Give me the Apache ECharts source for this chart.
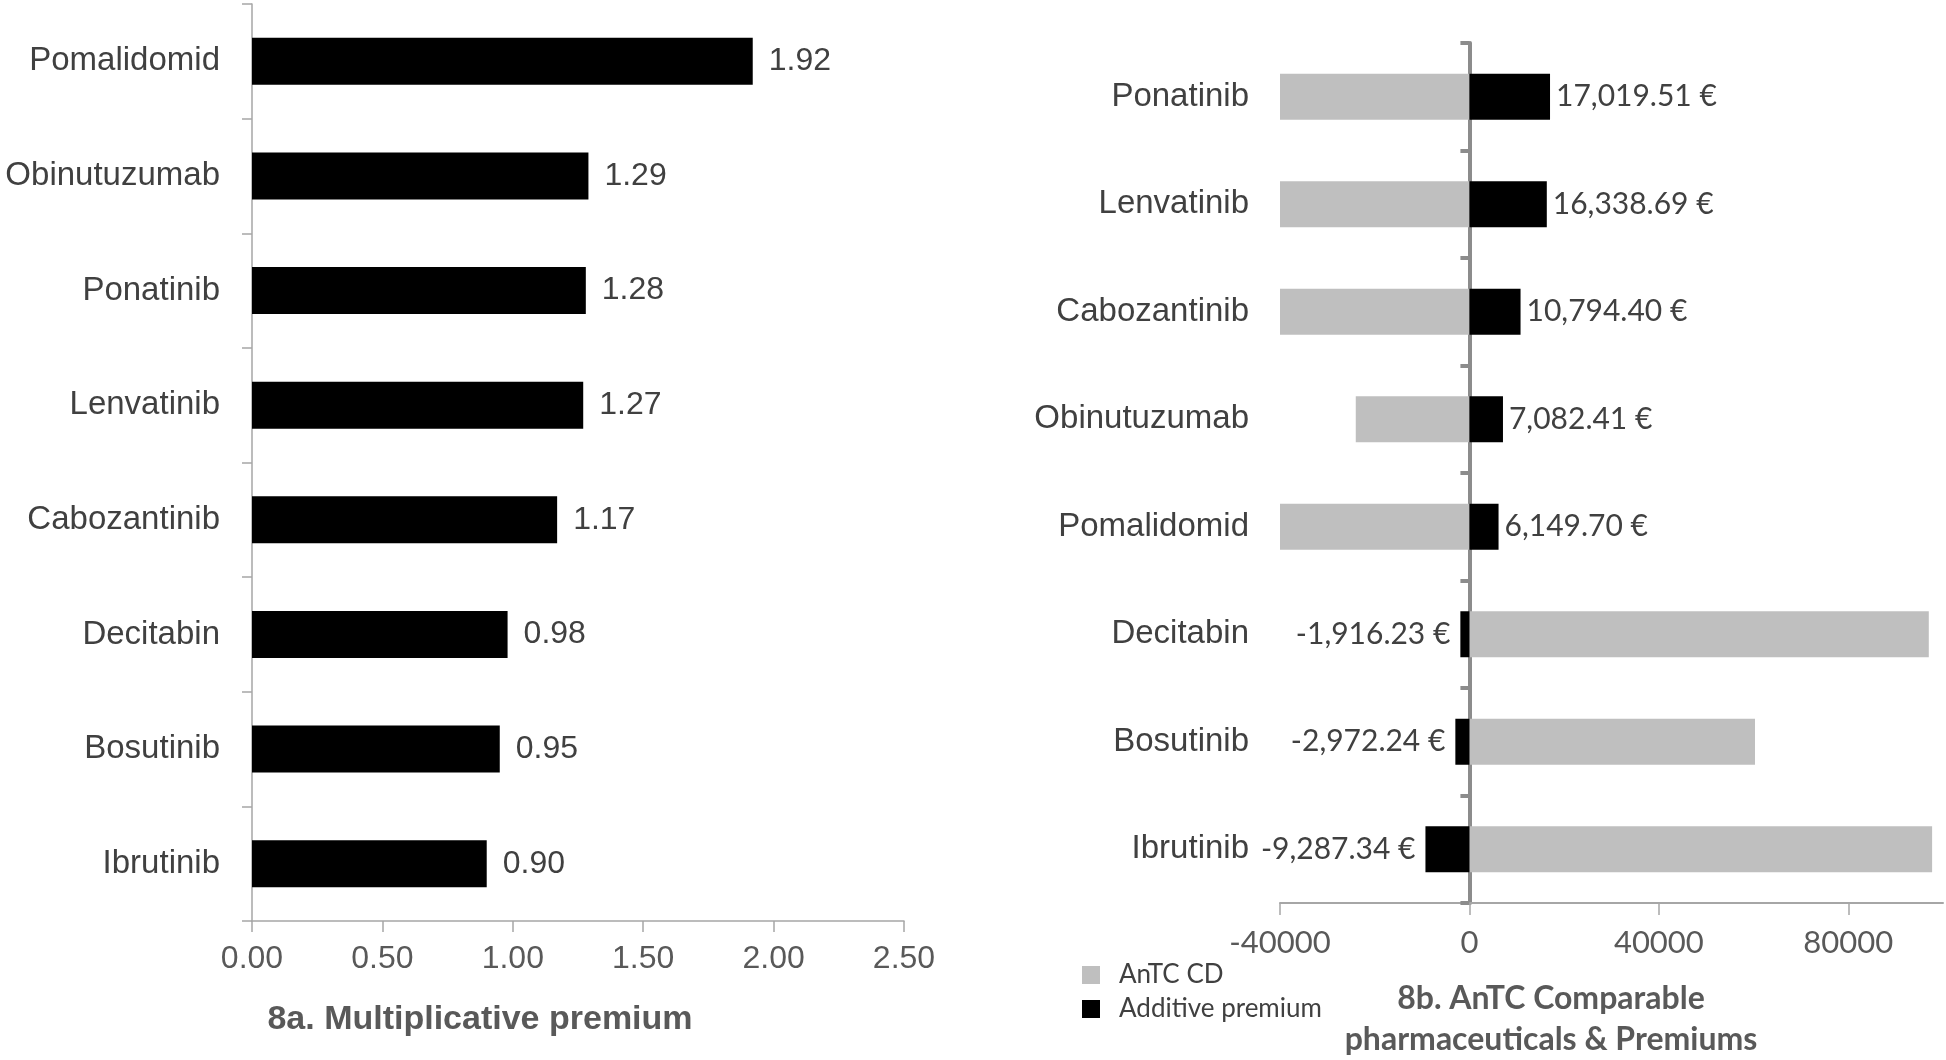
<!DOCTYPE html>
<html>
<head>
<meta charset="utf-8">
<script src="https://cdn.jsdelivr.net/npm/echarts@6/dist/echarts.min.js"></script>
<style>
  html, body { margin: 0; padding: 0; background: #fff; }
  #myChart { width: 1946px; height: 1060px; }
</style>
</head>
<body>
<div id="myChart"></div>
<script>
// 8a - multiplicative premium
var drugsA = ['Pomalidomid', 'Obinutuzumab', 'Ponatinib', 'Lenvatinib', 'Cabozantinib', 'Decitabin', 'Bosutinib', 'Ibrutinib'];
var multPremium = [1.92, 1.29, 1.28, 1.27, 1.17, 0.98, 0.95, 0.90];
var ticksA = [0, 0.5, 1, 1.5, 2, 2.5];

// 8b - AnTC comparable pharmaceuticals & premiums
var drugsB = ['Ponatinib', 'Lenvatinib', 'Cabozantinib', 'Obinutuzumab', 'Pomalidomid', 'Decitabin', 'Bosutinib', 'Ibrutinib'];
var antcCD = [-40000, -40000, -40000, -24000, -40000, 97000, 60300, 97700];
var addPremium = [17019.51, 16338.69, 10794.40, 7082.41, 6149.70, -1916.23, -2972.24, -9287.34];
var ticksB = [-40000, 0, 40000, 80000];

var arial = '"Liberation Sans", Arial, sans-serif';
var calib = 'Lato, "Open Sans", sans-serif';
var txt = '#404040';
var axisGray = '#a6a6a6';

function euro(v) {
  return v.toLocaleString('en-US', {minimumFractionDigits: 2, maximumFractionDigits: 2}) + ' €';
}

var myChart = echarts.init(document.getElementById('myChart'));

var option = {
  animation: false,
  title: [
    {
      text: '8a. Multiplicative premium',
      left: 475, top: 998, textAlign: 'center',
      textStyle: {fontFamily: arial, fontSize: 34, fontWeight: 'bold', color: '#595959'}
    },
    {
      text: '8b. AnTC Comparable\npharmaceuticals & Premiums',
      left: 1546, top: 973, textAlign: 'center',
      textStyle: {fontFamily: calib, fontSize: 32, fontWeight: 'bold', color: '#595959', lineHeight: 41}
    }
  ],
  legend: {
    data: ['AnTC CD', 'Additive premium'],
    orient: 'vertical',
    left: 1077, top: 957,
    icon: 'rect',
    itemWidth: 18, itemHeight: 18, itemGap: 8,
    textStyle: {fontFamily: calib, fontSize: 26, color: txt, padding: [0, 0, 0, 14]}
  },
  grid: [
    {left: 252, top: 4, width: 652, height: 917},
    {left: 1280, top: 43, width: 663, height: 860}
  ],
  xAxis: [
    {
      gridIndex: 0, type: 'value', min: 0, max: 2.5, interval: 0.5,
      splitLine: {show: false},
      axisLine: {show: true, lineStyle: {color: axisGray, width: 1.5}},
      axisTick: {show: true, length: 11, lineStyle: {color: axisGray, width: 1.5}},
      axisLabel: {
        margin: 22, fontFamily: arial, fontSize: 32, color: '#595959',
        formatter: function (v) { return v.toFixed(2); }
      }
    },
    {
      gridIndex: 1, type: 'value', min: -40000, max: 100000, interval: 40000,
      splitLine: {show: false},
      axisLine: {show: true, onZero: false, lineStyle: {color: axisGray, width: 2}},
      axisTick: {show: true, length: 12, customValues: ticksB, lineStyle: {color: axisGray, width: 1.5}},
      axisLabel: {
        margin: 24, fontFamily: calib, fontSize: 31, color: '#595959', customValues: ticksB,
        formatter: function (v) { return String(v); }
      }
    }
  ],
  yAxis: [
    {
      gridIndex: 0, type: 'category', inverse: true, data: drugsA,
      axisLine: {show: true, lineStyle: {color: axisGray, width: 1.5}},
      axisTick: {show: true, length: 10, lineStyle: {color: axisGray, width: 1.5}},
      axisLabel: {margin: 32, fontFamily: arial, fontSize: 33, color: txt}
    },
    {
      // labels of 8b, sitting at the left edge of the grid
      gridIndex: 1, type: 'category', inverse: true, data: drugsB,
      axisLine: {show: false, onZero: false},
      axisTick: {show: false},
      axisLabel: {margin: 31, fontFamily: arial, fontSize: 33, color: txt, padding: [4, 0, 0, 0]}
    },
    {
      // zero line of 8b with its ticks
      gridIndex: 1, type: 'category', inverse: true, data: drugsB, position: 'left',
      axisLine: {show: true, onZero: true, lineStyle: {color: '#8c8c8c', width: 4}},
      axisTick: {show: true, length: 9, lineStyle: {color: '#8c8c8c', width: 4}},
      axisLabel: {show: false}
    }
  ],
  series: [
    {
      type: 'bar', xAxisIndex: 0, yAxisIndex: 0,
      data: multPremium,
      barWidth: 47,
      itemStyle: {color: '#000'},
      label: {
        show: true, position: 'right', distance: 16,
        fontFamily: arial, fontSize: 32, color: txt, padding: [4, 0, 0, 0],
        formatter: function (p) { return p.value.toFixed(2); }
      }
    },
    {
      name: 'AnTC CD', type: 'bar', xAxisIndex: 1, yAxisIndex: 1,
      data: antcCD,
      barWidth: 46, barGap: '-100%',
      itemStyle: {color: '#bfbfbf'}
    },
    {
      name: 'Additive premium', type: 'bar', xAxisIndex: 1, yAxisIndex: 1,
      data: addPremium.map(function (v) {
        return {value: v, label: {position: v < 0 ? 'left' : 'right', distance: v < 0 ? 10 : 6}};
      }),
      barWidth: 46, barGap: '-100%',
      itemStyle: {color: '#000'},
      label: {
        show: true,
        fontFamily: calib, fontSize: 30, color: txt, padding: [4, 0, 0, 0],
        formatter: function (p) { return euro(p.value); }
      }
    }
  ]
};

myChart.setOption(option);
</script>
</body>
</html>
